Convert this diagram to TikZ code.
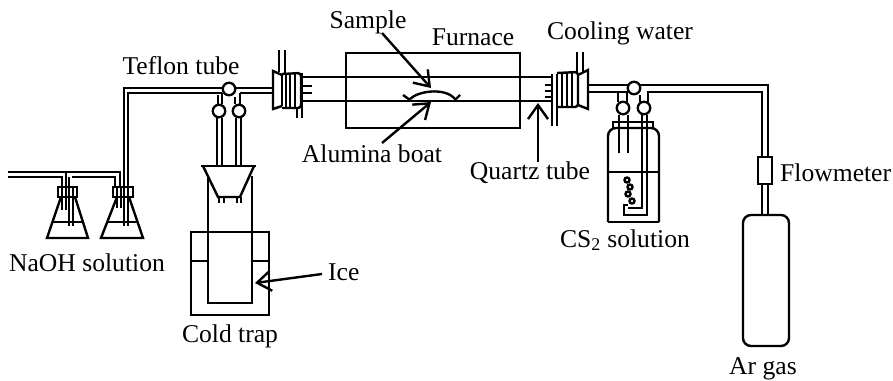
\documentclass[tikz,border=0pt]{standalone}
\usepackage{fontspec}
\setmainfont{Liberation Serif}
\usetikzlibrary{arrows.meta}
\tikzset{
  ol/.style={line width=2.4pt,line join=miter},
  tb/.style={line width=2.1pt},
  lbl/.style={inner sep=0pt,font=\fontsize{25.6}{27}\selectfont},
  arr/.style={line width=2.4pt,-{Straight Barb[length=14pt,width=20pt,line width=2.4pt]}},
  cock/.style={circle,draw,line width=2.3pt,fill=white,inner sep=0pt,minimum size=12.5pt}
}
\begin{document}
\begin{tikzpicture}[x=1pt,y=-1pt]
\useasboundingbox (0,0) rectangle (893,380);
\fill[white] (0,0) rectangle (893,380);
% left pipes
\draw[tb] (8,172) -- (120,172) -- (120,187);
\draw[tb] (8,177) -- (62,177) -- (62,187);
\draw[tb] (72,177) -- (115,177) -- (115,187);
\draw[tb] (66,172) -- (66,187);
% flask 1
\draw[ol] (61,197) -- (47,238) -- (88,238) -- (75,197);
\draw[ol] (52,222) -- (83,222);
\draw[ol] (58,187) rectangle (77,197);
\draw[tb] (62,187) -- (62,210) (66,187) -- (66,210) (69,177) -- (69,226) (73,187) -- (73,226);
% flask 2
\draw[ol] (117,197) -- (101,238) -- (143,238) -- (129,197);
\draw[ol] (107,222) -- (138,222);
\draw[ol] (113,187) rectangle (133,197);
\draw[tb] (117,187) -- (117,208) (121,187) -- (121,208);
% long tube
\draw[tb] (124,226) -- (124,88) -- (273,88);
\draw[tb] (128,226) -- (128,93) -- (222,93);
\draw[tb] (222,93) -- (222,104) (218,95) -- (218,104);
\draw[tb] (240,93) -- (273,93);
\draw[tb] (240,93) -- (240,104) (235,97) -- (235,104);
% stopcocks left
\node[cock] (cockA) at (229,89) {};
\node[cock] (cockB) at (219,111) {};
\node[cock] (cockC) at (239,111) {};
\draw[tb] (217,118) -- (217,166) (222,118) -- (222,166);
\draw[tb] (236,118) -- (236,166) (241,118) -- (241,166);
% cold trap
\draw[ol] (208,178) -- (208,303) -- (252,303) -- (252,176);
\draw[ol] (201,166) -- (256,166);
\draw[ol] (203,166) -- (218,197) -- (240,197) -- (254,166);
\draw[tb] (219,197) -- (219,203) (224,197) -- (224,203) (237,197) -- (237,203) (241,197) -- (241,203);
\draw[ol] (191,232) rectangle (269,315);
\draw[ol] (191,261) -- (208,261) (252,261) -- (269,261);
% left flange
\draw[tb] (279,50) -- (279,72) (285,50) -- (285,73);
\draw[ol] (282,75) -- (273,71) -- (273,109) -- (282,106);
\draw[ol] (282,75) -- (282,106);
\draw[ol,rounded corners=3pt] (282,74) -- (301,73) -- (301,108) -- (282,108);
\draw[tb] (286,74) -- (286,108) (290,74) -- (290,108) (295,74) -- (295,108);
\draw[ol] (297,108) -- (297,118) (302,73) -- (302,118);
\draw[ol] (303,86) -- (312,86) (303,93) -- (312,93);
% quartz tube
\draw[ol] (302,77) -- (552,77) (302,101) -- (552,101);
% furnace
\draw[ol] (346,53) rectangle (520,128);
% boat
\draw[ol] (403,95) -- (410,100);
\draw[ol] (410,99) .. controls (418,91) and (445,87) .. (455,99);
\draw[ol] (455,100) -- (460,95);
% right flange
\draw[ol] (545,85) -- (552,85) (545,91) -- (552,91) (545,97) -- (552,97);
\draw[ol] (552,74) -- (552,126) (557,74) -- (557,126);
\draw[ol,rounded corners=3pt] (557,73) -- (578,72) -- (578,107) -- (557,107);
\draw[tb] (562,73) -- (562,107) (567,73) -- (567,107) (572,73) -- (572,107);
\draw[ol] (578,75) -- (588,70) -- (588,109) -- (578,105);
\draw[tb] (577,52) -- (577,73) (583,52) -- (583,72);
% right pipes
\draw[tb] (588,85) -- (768,85) -- (768,157);
\draw[tb] (588,92) -- (627,92) -- (627,102);
\draw[tb] (618,92) -- (618,102);
\draw[tb] (648,102) -- (648,92) -- (762,92) -- (762,157);
\draw[tb] (640,95) -- (640,102);
\node[cock] (cockD) at (634,88) {};
\node[cock] (cockE) at (623,108) {};
\node[cock] (cockF) at (644,108) {};
% CS2 bottle
\draw[ol] (613,122) rectangle (653,128);
\draw[ol,rounded corners=8pt] (608,222) -- (608,128) -- (659,128) -- (659,222);
\draw[ol] (608,222) -- (659,222);
\draw[ol] (608,172) -- (659,172);
\draw[tb] (619,115) -- (619,153) (628,115) -- (628,153);
\draw[tb] (642,115) -- (642,208) -- (628,208);
\draw[tb] (647,115) -- (647,215) -- (624,215) -- (624,205) -- (628,205);
\foreach \bx/\by in {627/180,630/187,628/194,632/201}{
  \draw[line width=2.4pt] (\bx,\by) circle (2.5pt);
}
% Ar line
\draw[ol,fill=white] (758,157) rectangle (772,184);
\draw[tb] (762,184) -- (762,215) (768,184) -- (768,215);
\draw[ol,rounded corners=8pt] (743,346) -- (743,215) -- (789,215) -- (789,346) -- cycle;
% labels
\node[lbl] (lsample) at (368,22) {Sample};
\node[lbl] (lfurn) at (473,37) {Furnace};
\node[lbl] (lcool) at (620,33) {Cooling water};
\node[lbl] (lteflon) at (181,66) {Teflon tube};
\node[lbl] (lboat) at (372,154) {Alumina boat};
\node[lbl] (lquartz) at (530,173) {Quartz tube};
\node[lbl] (lcs) at (625,240) {CS\textsubscript{2} solution};
\node[lbl,anchor=west] (lflow) at (780,173) {Flowmeter};
\node[lbl] (lnaoh) at (87,263) {NaOH solution};
\node[lbl,anchor=west] (lice) at (328,272) {Ice};
\node[lbl] (lcold) at (230,336) {Cold trap};
\node[lbl] (lar) at (763,369) {Ar gas};
% arrows
\coordinate (sT) at (382,33); \coordinate (sH) at (431,88);
\coordinate (bT) at (382,143); \coordinate (bH) at (431,102);
\coordinate (qT) at (538,162); \coordinate (qH) at (538,103);
\coordinate (iT) at (322,274); \coordinate (iH) at (255,283);
\draw[arr] (sT) -- (sH);
\draw[arr] (bT) -- (bH);
\draw[arr] (qT) -- (qH);
\draw[arr] (iT) -- (iH);
\end{tikzpicture}
\end{document}
